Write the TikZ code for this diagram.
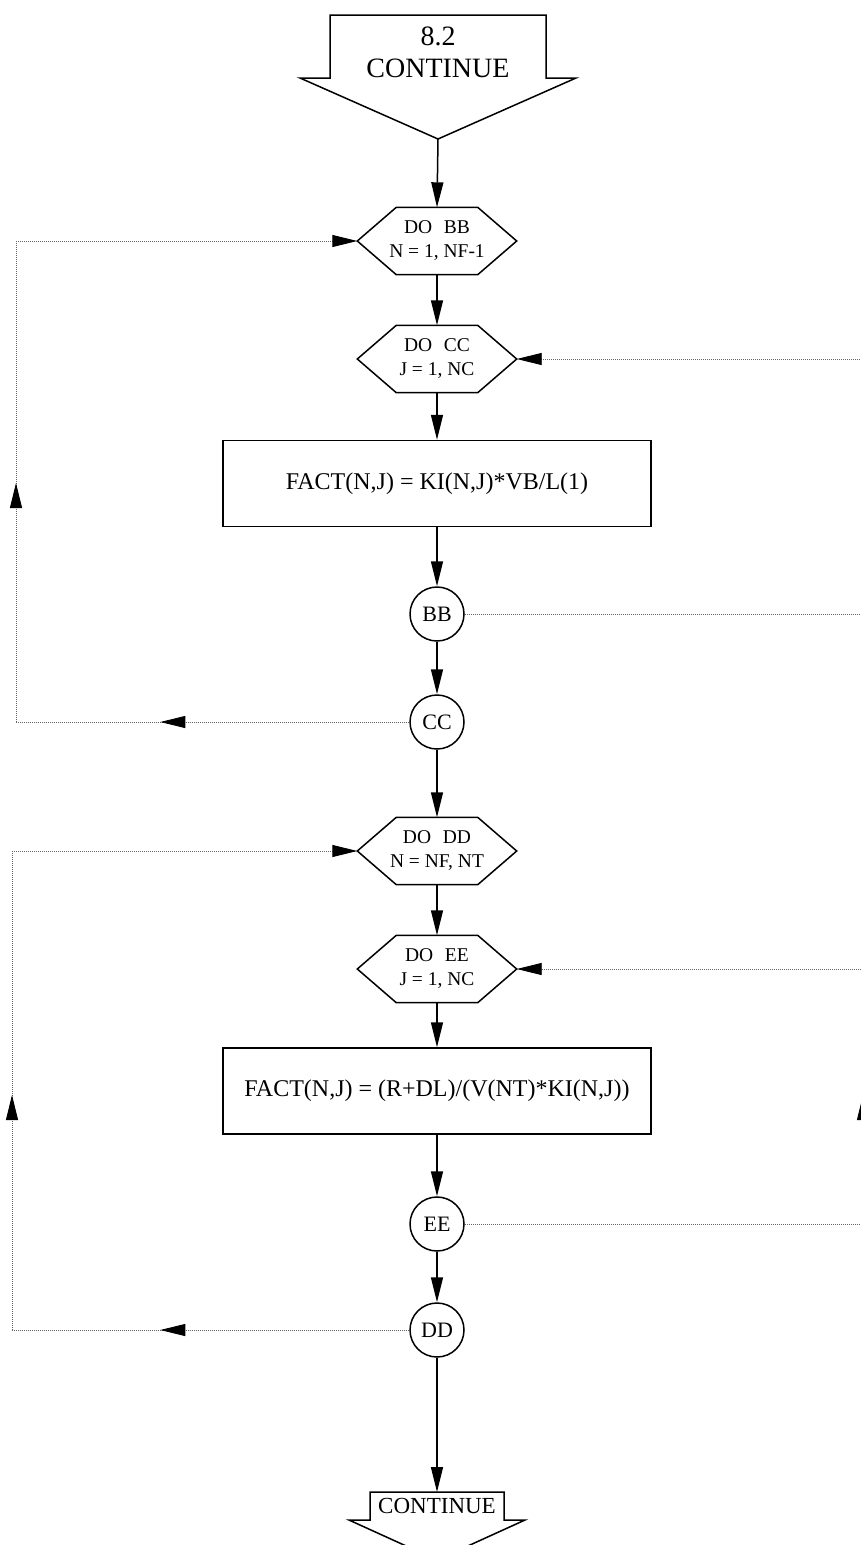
\documentclass[tikz,border=0pt]{standalone}
\usepackage{fontspec}
\setmainfont{Liberation Serif}
\usetikzlibrary{arrows.meta,decorations.markings,calc}
\newcommand\hexout[1]{\draw[line width=1.5pt,line join=miter] (#1.west) -- ([xshift=39pt]#1.north west) -- ([xshift=-39pt]#1.north east) -- (#1.east) -- ([xshift=-39pt]#1.south east) -- ([xshift=39pt]#1.south west) -- cycle;}
\begin{document}
\begin{tikzpicture}[x=1pt,y=-1pt,
  flow/.style={line width=1.5pt, -{Triangle[length=25pt,width=12pt]}},
  dotl/.style={line width=0.9pt, black!60, dash pattern=on 1pt off 1pt},
  endarrow/.style={-{Triangle[length=25pt,width=12pt,color=black]}},
  midarrow/.style={postaction={decorate}, decoration={markings, mark=at position #1 with {\arrow{Triangle[length=25pt,width=12pt,color=black]}}}},
  hexn/.style={minimum width=159pt, minimum height=67pt, inner sep=0pt, align=center, font=\fontsize{19.5}{24}\selectfont},
  boxn/.style={draw, line width=1.5pt, minimum width=428pt, minimum height=86pt, inner sep=0pt, font=\fontsize{24}{28}\selectfont},
  circn/.style={draw, circle, line width=1.5pt, minimum size=54pt, inner sep=0pt, font=\fontsize{22}{26}\selectfont}
]
\useasboundingbox (0,0) rectangle (861,1545);
\fill[white] (0,0) rectangle (861,1545);

% top continue shape
\node[font=\fontsize{28}{32}\selectfont, align=center, inner sep=0pt] (top) at (438,52) {8.2\\CONTINUE};
\coordinate (toptip) at (438,139);
\draw[line width=1.5pt] (330,15) -- (546,15) -- (546,78) -- (576,78) -- (toptip) -- (300,78) -- (330,78) -- cycle;

% nodes
\node[hexn] (hbb) at (437,241) {DO\hspace{0.6em}BB\\N = 1, NF-1};
\node[hexn] (hcc) at (437,359) {DO\hspace{0.6em}CC\\J = 1, NC};
\node[boxn] (b1) at (437,483.5) {FACT(N,J) = KI(N,J)*VB/L(1)};
\node[circn] (BB) at (437,614) {BB};
\node[circn] (CC) at (437,722) {CC};
\node[hexn] (hdd) at (437,851) {DO\hspace{0.6em}DD\\N = NF, NT};
\node[hexn] (hee) at (437,969) {DO\hspace{0.6em}EE\\J = 1, NC};
\node[boxn] (b2) at (437,1091) {FACT(N,J) = (R+DL)/(V(NT)*KI(N,J))};
\node[circn] (EE) at (437,1224) {EE};
\node[circn] (DD) at (437,1330) {DD};
\hexout{hbb}
\hexout{hcc}
\hexout{hdd}
\hexout{hee}

% bottom continue shape
\coordinate (bottop) at (437,1492);
\draw[line width=1.5pt] (370,1492) -- (504,1492) -- (504,1520) -- (525,1520) -- (437,1560) -- (349,1520) -- (370,1520) -- cycle;
\node[font=\fontsize{23}{27}\selectfont, inner sep=0pt] (bc) at (437,1506) {CONTINUE};

% main flow
\draw[flow] (toptip) -- (hbb.north);
\draw[flow] (hbb.south) -- (hcc.north);
\draw[flow] (hcc.south) -- (b1.north);
\draw[flow] (b1.south) -- (BB.north);
\draw[flow] (BB.south) -- (CC.north);
\draw[flow] (CC.south) -- (hdd.north);
\draw[flow] (hdd.south) -- (hee.north);
\draw[flow] (hee.south) -- (b2.north);
\draw[flow] (b2.south) -- (EE.north);
\draw[flow] (EE.south) -- (DD.north);
\draw[flow] (DD.south) -- (bottop);

% loop coordinates
\coordinate (R1) at (880,0);
\coordinate (L1) at (16,0);
\coordinate (R2) at (863,0);
\coordinate (L2) at (12,0);

% inner loop 1 (CC)
\draw[dotl] (BB.east) -- (BB.east -| R1);
\draw[dotl, midarrow=127pt] (BB.east -| R1) -- (hcc.east -| R1);
\draw[dotl, endarrow] (hcc.east -| R1) -- (hcc.east);
% outer loop 1 (BB)
\draw[dotl, midarrow=249pt] (CC.west) -- (CC.west -| L1);
\draw[dotl, midarrow=239pt] (CC.west -| L1) -- (hbb.west -| L1);
\draw[dotl, endarrow] (hbb.west -| L1) -- (hbb.west);
% inner loop 2 (EE)
\draw[dotl] (EE.east) -- (EE.east -| R2);
\draw[dotl, midarrow=129pt] (EE.east -| R2) -- (hee.east -| R2);
\draw[dotl, endarrow] (hee.east -| R2) -- (hee.east);
% outer loop 2 (DD)
\draw[dotl, midarrow=249pt] (DD.west) -- (DD.west -| L2);
\draw[dotl, midarrow=235pt] (DD.west -| L2) -- (hdd.west -| L2);
\draw[dotl, endarrow] (hdd.west -| L2) -- (hdd.west);
\end{tikzpicture}
\end{document}
